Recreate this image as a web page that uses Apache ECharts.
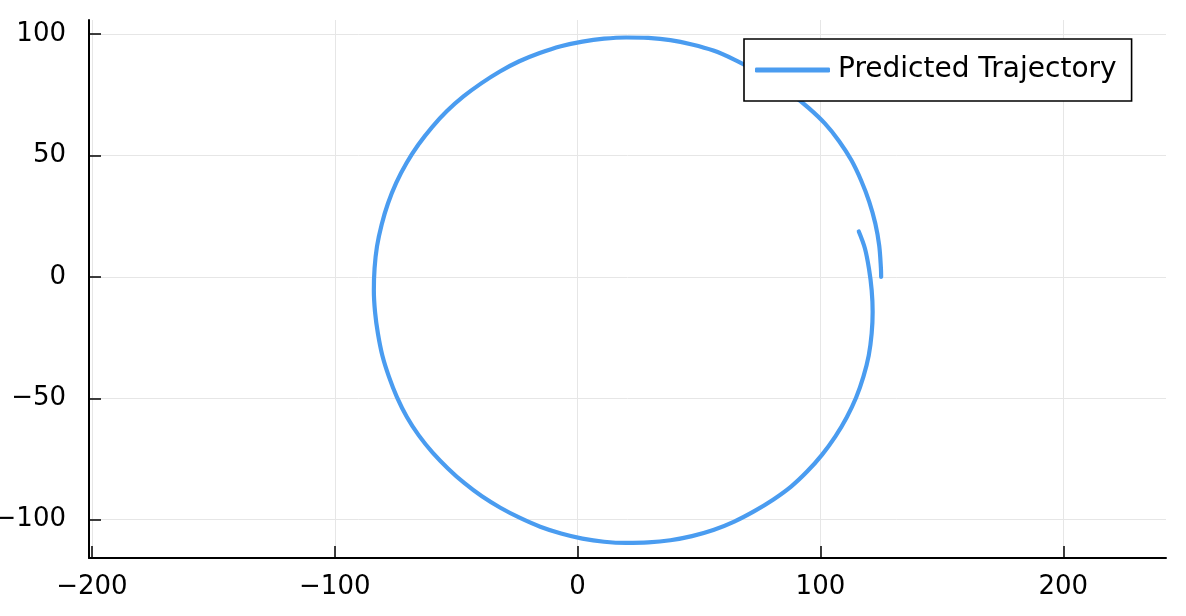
<!DOCTYPE html>
<html>
<head>
<meta charset="utf-8">
<script src="https://cdn.jsdelivr.net/npm/echarts@6/dist/echarts.min.js"></script>
<style>
html,body{margin:0;padding:0;background:#fff;}
#chart{width:1186px;height:616px;}
</style>
</head>
<body>
<div id="chart"></div>
<script>
// Trajectory points (in drawing order)
const trajX = [125.0, 124.9, 124.2, 122.6, 120.1, 116.8, 112.7, 107.7, 101.8, 95.1, 87.9, 80.3, 72.5, 64.3, 55.9, 47.1, 38.2, 29.1, 20.0, 10.9, 2.0, -6.9, -15.6, -24.0, -32.0, -39.7, -47.0, -53.8, -60.0, -65.6, -70.5, -74.7, -78.1, -80.7, -82.6, -83.6, -83.9, -83.4, -82.2, -80.4, -77.7, -74.4, -70.3, -65.4, -59.7, -53.4, -46.7, -39.4, -31.8, -23.7, -15.4, -6.8, 2.0, 10.9, 20.0, 29.1, 38.2, 47.1, 55.9, 64.5, 72.6, 80.5, 87.9, 94.6, 100.7, 106.1, 110.8, 114.7, 117.7, 119.9, 121.1, 121.5, 121.1, 120.0, 118.3, 115.8];
const trajY = [0.0, 3.7, 12.9, 22.0, 30.9, 39.6, 48.1, 55.9, 63.2, 69.6, 75.4, 80.7, 85.3, 89.6, 93.2, 95.7, 97.5, 98.4, 98.6, 98.1, 96.9, 95.0, 92.2, 88.8, 84.6, 79.7, 74.3, 68.3, 61.6, 54.4, 46.8, 38.7, 30.2, 21.5, 12.6, 3.6, -5.5, -14.6, -23.5, -32.4, -41.1, -49.5, -57.7, -65.3, -72.4, -78.9, -84.9, -90.4, -95.1, -99.3, -102.9, -105.7, -107.8, -109.1, -109.6, -109.4, -108.5, -106.8, -104.3, -100.8, -96.6, -91.8, -86.4, -80.1, -73.2, -65.8, -57.9, -49.7, -41.1, -32.3, -23.3, -14.4, -5.5, 3.3, 11.8, 18.7];
const seriesName = 'Predicted Trajectory';
const xTicks = [-200, -100, 0, 100, 200];
const yTicks = [-100, -50, 0, 50, 100];
const xRange = [-201.2, 242.3];
const yRange = [-115.8, 105.8];

const pts = trajX.map((x, i) => [x, trajY[i]]);
const fmt = v => String(v).replace('-', '\u2212');
const lineColor = '#4a9cf0';
const font = 'DejaVu Sans';

const chart = echarts.init(document.getElementById('chart'), null, {renderer: 'canvas'});
chart.setOption({
  animation: false,
  backgroundColor: '#ffffff',
  grid: {left: 89, right: 20, top: 20, bottom: 58, containLabel: false, outerBoundsMode: 'none'},
  legend: {
    left: 744, top: 39,
    padding: [14.5, 15, 14.5, 11],
    itemWidth: 75, itemHeight: 5, itemGap: 0,
    icon: 'roundRect',
    borderColor: '#000', borderWidth: 1.6, borderRadius: 0,
    backgroundColor: '#fff',
    textStyle: {fontFamily: font, fontSize: 28, color: '#000', lineHeight: 30, padding: [3, 0, 0, 3]},
    data: [{name: seriesName, itemStyle: {color: lineColor}}]
  },
  xAxis: {
    type: 'value', min: xRange[0], max: xRange[1],
    axisLine: {show: true, onZero: false, lineStyle: {color: '#000', width: 2}},
    axisTick: {show: true, inside: true, length: 12, customValues: xTicks, lineStyle: {color: '#000', width: 1.5}},
    axisLabel: {customValues: xTicks, fontFamily: font, fontSize: 26, color: '#000', margin: 16,
      formatter: v => (xTicks.indexOf(v) >= 0 ? fmt(v) : '')},
    splitLine: {show: true, lineStyle: {color: '#e6e6e6', width: 1}}
  },
  yAxis: {
    type: 'value', min: yRange[0], max: yRange[1],
    axisLine: {show: true, onZero: false, lineStyle: {color: '#000', width: 2}},
    axisTick: {show: true, inside: true, length: 12, customValues: yTicks, lineStyle: {color: '#000', width: 1.5}},
    axisLabel: {customValues: yTicks, fontFamily: font, fontSize: 26, color: '#000', margin: 23,
      formatter: v => (yTicks.indexOf(v) >= 0 ? fmt(v) : '')},
    splitLine: {show: true, lineStyle: {color: '#e6e6e6', width: 1}}
  },
  series: [{
    name: seriesName,
    type: 'line',
    data: pts,
    smooth: 0.33,
    showSymbol: false,
    symbol: 'none',
    lineStyle: {color: lineColor, width: 4.2, cap: 'round', join: 'round'},
    itemStyle: {color: lineColor}
  }]
});
</script>
</body>
</html>
